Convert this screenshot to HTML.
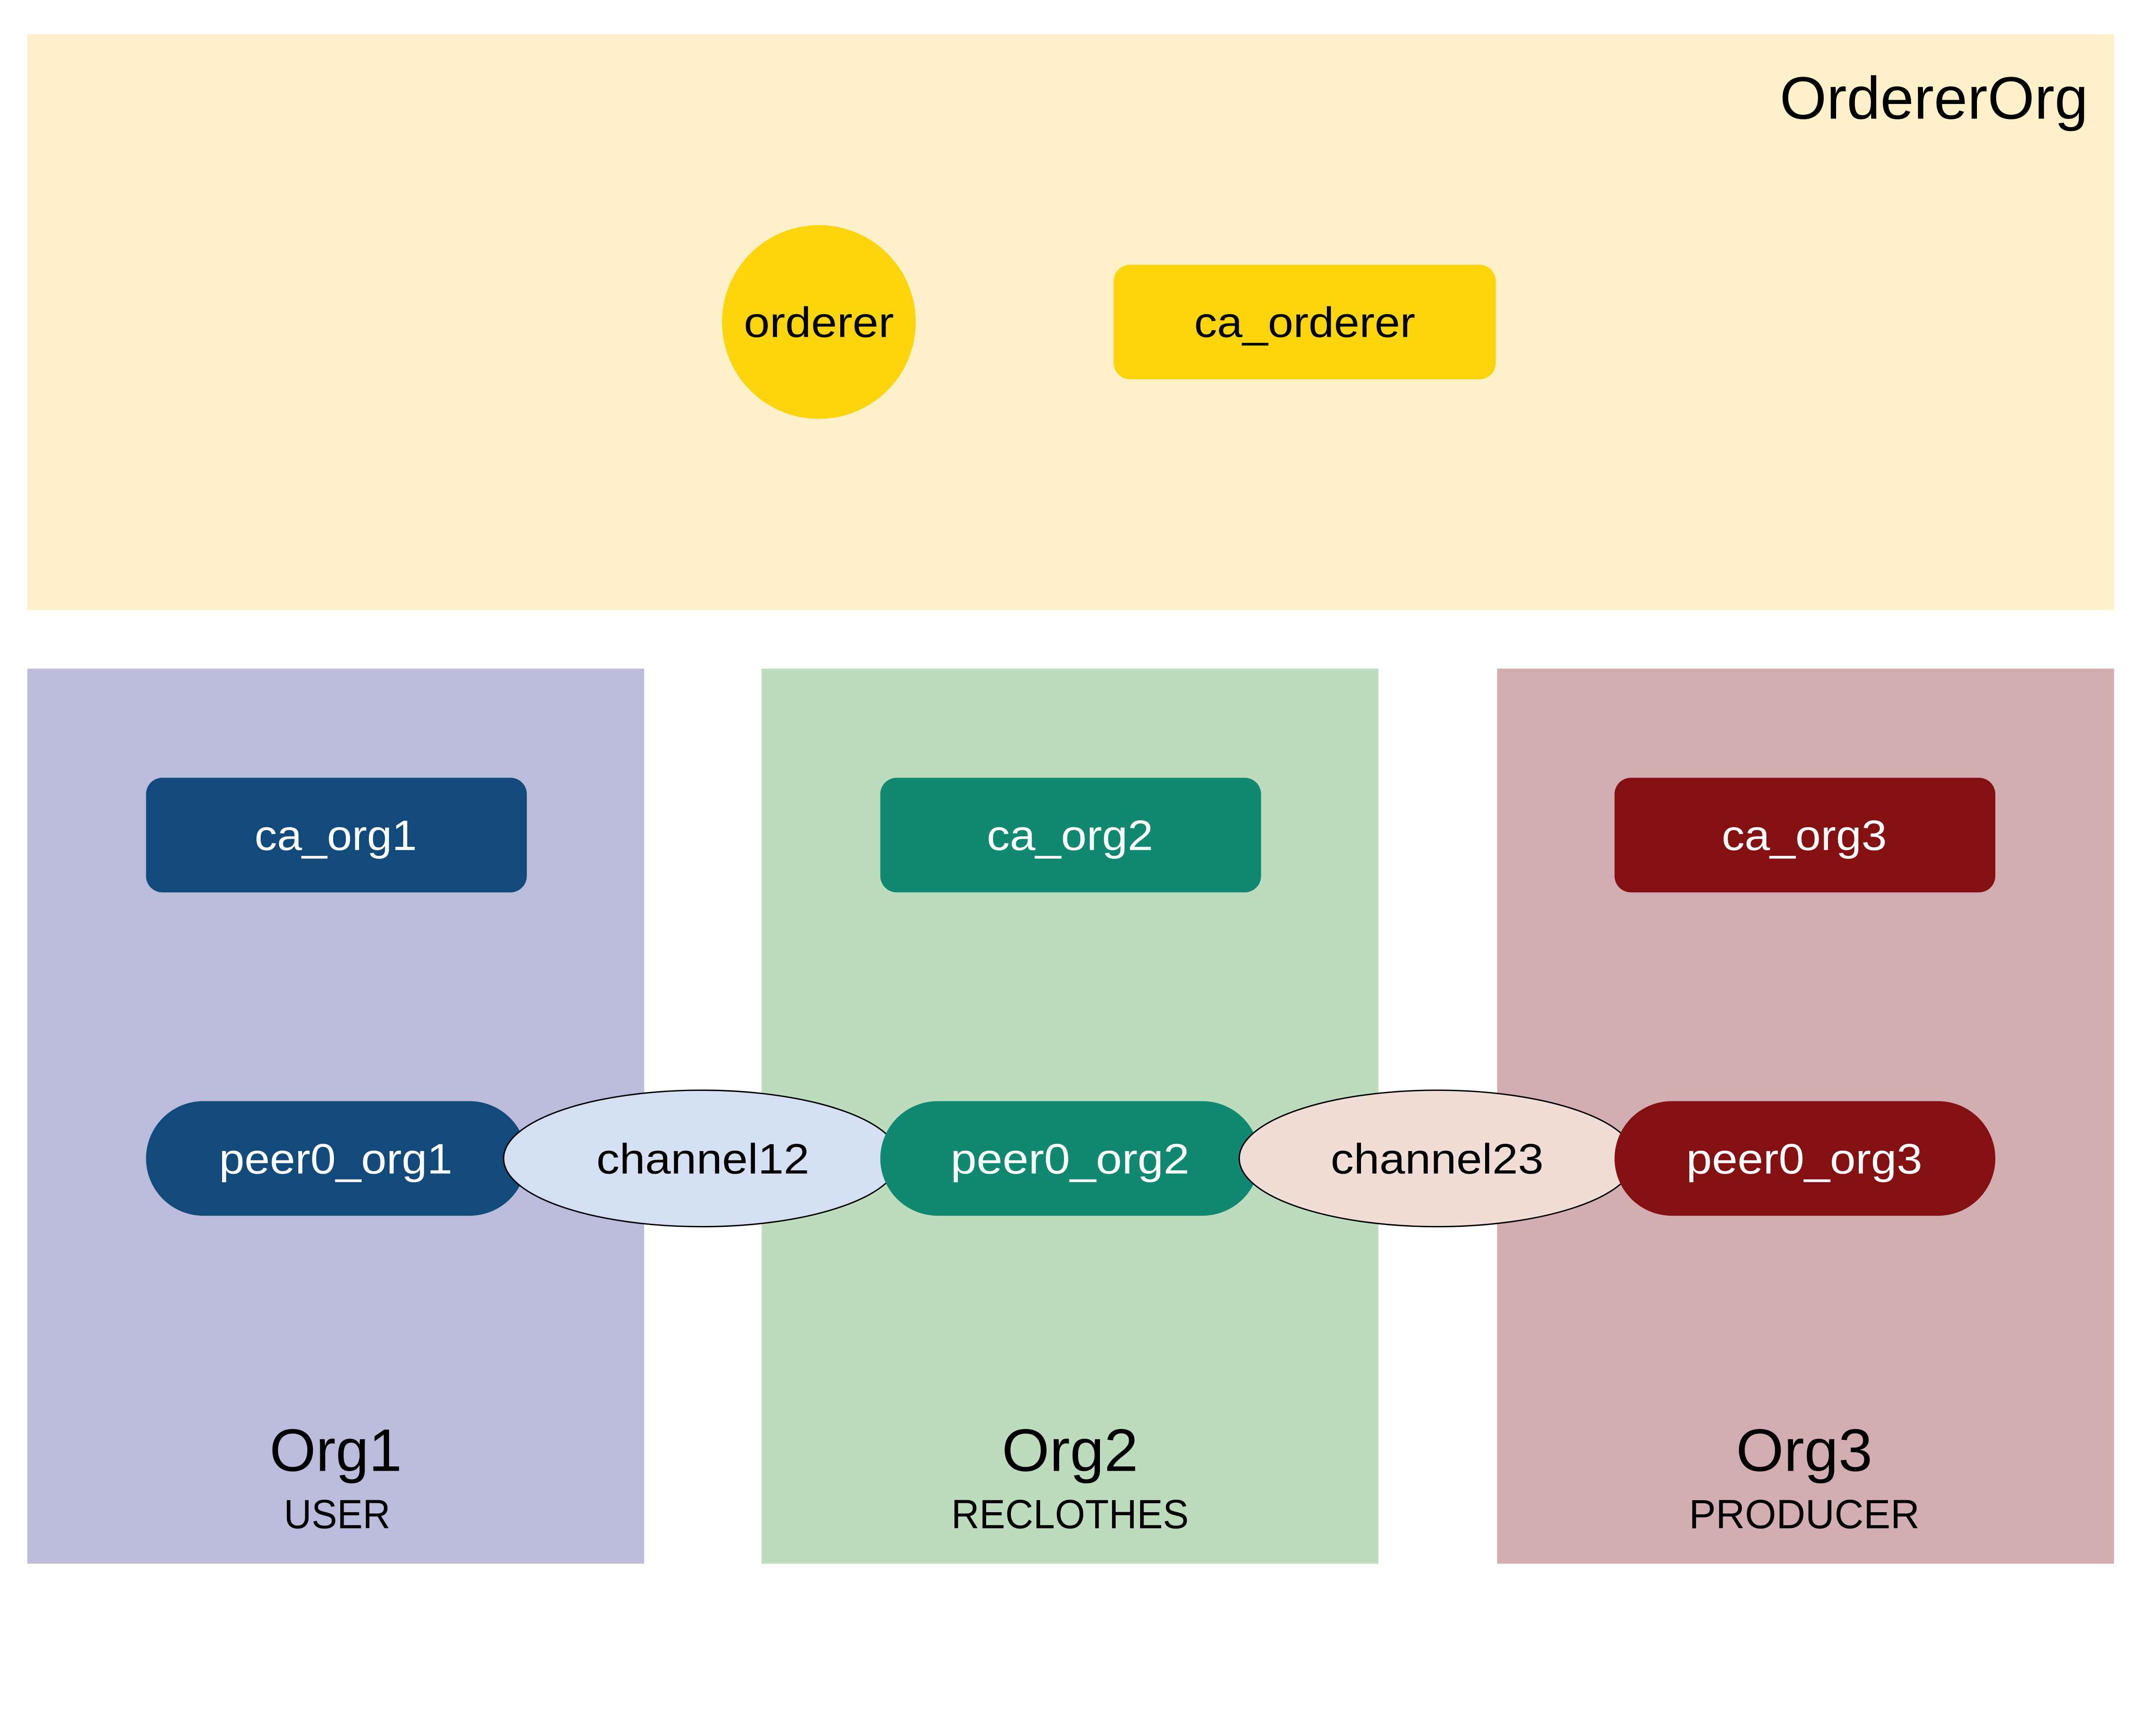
<!DOCTYPE html>
<html><head><meta charset="utf-8"><style>
html,body{margin:0;padding:0;background:#fff;overflow:hidden;}
svg{display:block;width:100vw;height:calc(100vw * 1172 / 1568);}
text{font-family:"Liberation Sans",sans-serif;}
</style></head><body>
<svg viewBox="0 0 1568 1172" xmlns="http://www.w3.org/2000/svg">
<rect x="0" y="0" width="1568" height="1172" fill="#fff"/>
<rect x="20" y="25" width="1529" height="422" fill="#FEF0C9"/>
<text x="1530" y="87" font-size="44" text-anchor="end" textLength="226" lengthAdjust="spacingAndGlyphs">OrdererOrg</text>
<circle cx="600" cy="236" r="71" fill="#FCD40C"/>
<text x="600" y="247" font-size="31" text-anchor="middle" textLength="110" lengthAdjust="spacingAndGlyphs">orderer</text>
<rect x="816" y="194" width="280" height="84" rx="12" fill="#FCD40C"/>
<text x="956" y="247" font-size="31" text-anchor="middle" textLength="162" lengthAdjust="spacingAndGlyphs">ca_orderer</text>

<rect x="20" y="490" width="452" height="656" fill="#BBBCDB"/>
<rect x="558" y="490" width="452" height="656" fill="#BDDBBD"/>
<rect x="1097" y="490" width="452" height="656" fill="#D2ADB2"/>

<rect x="107" y="570" width="279" height="84" rx="12" fill="#134A7C"/>
<text x="246" y="623" font-size="31" text-anchor="middle" fill="#fff" textLength="119" lengthAdjust="spacingAndGlyphs">ca_org1</text>
<rect x="645" y="570" width="279" height="84" rx="12" fill="#118872"/>
<text x="784" y="623" font-size="31" text-anchor="middle" fill="#fff" textLength="122" lengthAdjust="spacingAndGlyphs">ca_org2</text>
<rect x="1183" y="570" width="279" height="84" rx="12" fill="#841012"/>
<text x="1322" y="623" font-size="31" text-anchor="middle" fill="#fff" textLength="121" lengthAdjust="spacingAndGlyphs">ca_org3</text>

<rect x="107" y="807" width="279" height="84" rx="42" fill="#134A7C"/>
<text x="246" y="860" font-size="31" text-anchor="middle" fill="#fff" textLength="171" lengthAdjust="spacingAndGlyphs">peer0_org1</text>
<ellipse cx="514" cy="849" rx="145" ry="50" fill="#D4E0F1" stroke="#000" stroke-width="1"/>
<text x="515" y="860" font-size="31" text-anchor="middle" textLength="156" lengthAdjust="spacingAndGlyphs">channel12</text>
<rect x="645" y="807" width="278" height="84" rx="42" fill="#118872"/>
<text x="784" y="860" font-size="31" text-anchor="middle" fill="#fff" textLength="175" lengthAdjust="spacingAndGlyphs">peer0_org2</text>
<ellipse cx="1053" cy="849" rx="145" ry="50" fill="#EFDDD6" stroke="#000" stroke-width="1"/>
<text x="1053" y="860" font-size="31" text-anchor="middle" textLength="156" lengthAdjust="spacingAndGlyphs">channel23</text>
<rect x="1183" y="807" width="279" height="84" rx="42" fill="#841012"/>
<text x="1322" y="860" font-size="31" text-anchor="middle" fill="#fff" textLength="173" lengthAdjust="spacingAndGlyphs">peer0_org3</text>

<text x="246" y="1078" font-size="44" text-anchor="middle" textLength="97" lengthAdjust="spacingAndGlyphs">Org1</text>
<text x="247" y="1120" font-size="30" text-anchor="middle" textLength="78" lengthAdjust="spacingAndGlyphs">USER</text>
<text x="784" y="1078" font-size="44" text-anchor="middle" textLength="100" lengthAdjust="spacingAndGlyphs">Org2</text>
<text x="784" y="1120" font-size="30" text-anchor="middle" textLength="174" lengthAdjust="spacingAndGlyphs">RECLOTHES</text>
<text x="1322" y="1078" font-size="44" text-anchor="middle" textLength="100" lengthAdjust="spacingAndGlyphs">Org3</text>
<text x="1322" y="1120" font-size="30" text-anchor="middle" textLength="169" lengthAdjust="spacingAndGlyphs">PRODUCER</text>
</svg>
</body></html>
